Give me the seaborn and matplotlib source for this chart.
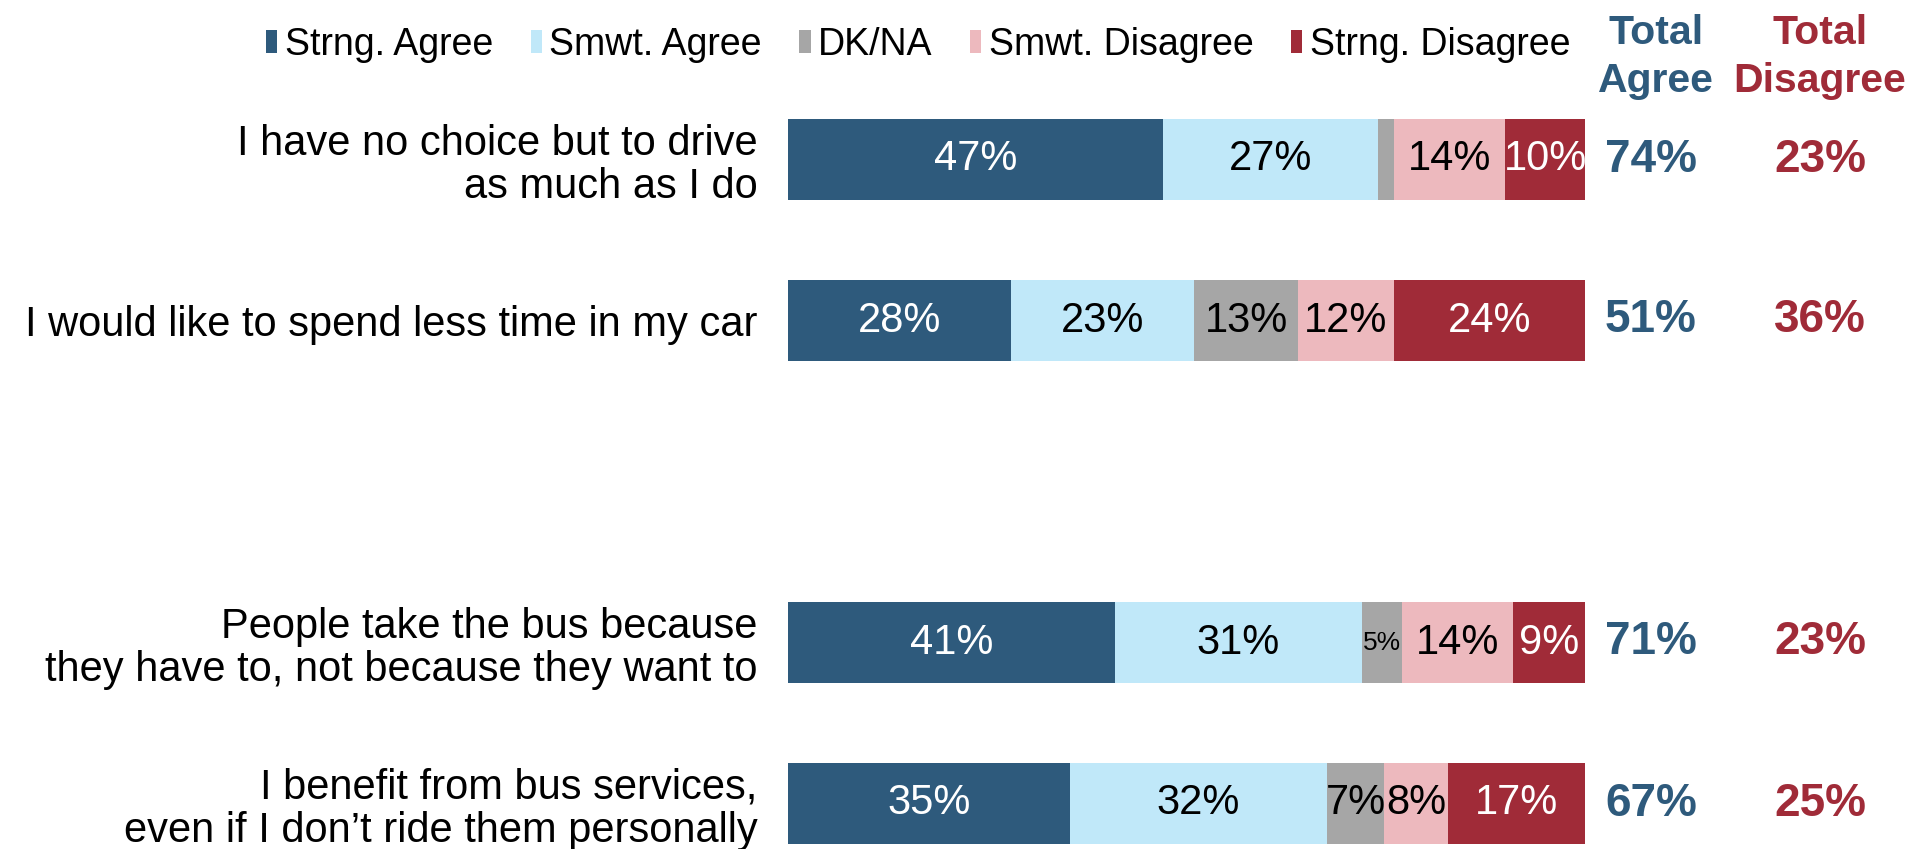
import numpy as np
import pandas as pd
import matplotlib
matplotlib.use("Agg")
import matplotlib.pyplot as plt
from matplotlib.patches import Patch
from matplotlib.transforms import blended_transform_factory
import seaborn as sns

# ---------------- data ----------------
statements = [
    "I have no choice but to drive\nas much as I do",
    "I would like to spend less time in my car",
    "People take the bus because\nthey have to, not because they want to",
    "I benefit from bus services,\neven if I don\u2019t ride them personally",
]
row_pos = [0, 1, 3, 4]
categories = ["Strng. Agree", "Smwt. Agree", "DK/NA", "Smwt. Disagree", "Strng. Disagree"]
strng_agree = [47, 28, 41, 35]
smwt_agree = [27, 23, 31, 32]
dk_na = [2, 13, 5, 7]
smwt_disagree = [14, 12, 14, 8]
strng_disagree = [10, 24, 9, 17]
total_agree = [74, 51, 71, 67]
total_disagree = [23, 36, 23, 25]

colors = ["#2E5A7C", "#C0E8F9", "#A6A6A6", "#EDB9BE", "#A02B38"]
label_colors = ["white", "black", "black", "black", "white"]

# ---------------- styling ----------------
sns.set_theme(style="white")
plt.rcParams["font.family"] = ["Liberation Sans", "DejaVu Sans"]
plt.rcParams["text.color"] = "black"
plt.rcParams["ytick.color"] = "black"
plt.rcParams["ytick.labelcolor"] = "black"

fig = plt.figure(figsize=(19.15, 8.49), dpi=100)
ax = fig.add_axes([788 / 1915, 0.0, (1585 - 788) / 1915, (849 - 79) / 849])

vals = np.array([strng_agree, smwt_agree, dk_na, smwt_disagree, strng_disagree], dtype=float)
shares = vals / vals.sum(axis=0) * 100.0  # 100% stacked
cum = np.cumsum(shares, axis=0)

# draw layers from the outermost cumulative sum inward
for i in range(len(categories) - 1, -1, -1):
    df = pd.DataFrame({"value": cum[i], "pos": row_pos})
    sns.barplot(data=df, x="value", y="pos", orient="h", native_scale=True,
                color=colors[i], saturation=1, width=0.5, ax=ax,
                errorbar=None, linewidth=0)

# segment labels
for i in range(len(categories)):
    for j, p in enumerate(row_pos):
        v = vals[i, j]
        if v < 5:
            continue
        left = cum[i, j] - shares[i, j]
        size = 19 if v <= 5 else 30
        ax.text(left + shares[i, j] / 2, p, f"{int(v)}%", ha="center", va="center",
                fontsize=size, color=label_colors[i])

# totals
tr = blended_transform_factory(fig.transFigure, ax.transData)
for j, p in enumerate(row_pos):
    ax.text(1651 / 1915, p, f"{total_agree[j]}%", transform=tr,
            ha="center", va="center", fontsize=33, fontweight="bold", color="#2E5A7C")
    ax.text(1820 / 1915, p, f"{total_disagree[j]}%", transform=tr,
            ha="center", va="center", fontsize=33, fontweight="bold", color="#A02B38")

fig.text(1656 / 1915, 1 - 57 / 849, "Total\nAgree", ha="center", va="center",
         fontsize=29.5, fontweight="bold", color="#2E5A7C", linespacing=1.35)
fig.text(1820 / 1915, 1 - 57 / 849, "Total\nDisagree", ha="center", va="center",
         fontsize=29.5, fontweight="bold", color="#A02B38", linespacing=1.35)

# axes formatting
ax.set_xlim(0, 100)
ax.set_ylim(4 + (849 - 803.5) / 161.0, -0.5)
ax.set_yticks(row_pos)
ax.set_yticklabels(statements, fontsize=30, linespacing=1.1, color="black")
ax.tick_params(axis="y", length=0, pad=22)
ax.set_xticks([])
ax.set_xlabel("")
ax.set_ylabel("")
for s in ax.spines.values():
    s.set_visible(False)

# legend
handles = [Patch(facecolor=c, edgecolor="none") for c in colors]
leg = fig.legend(handles, categories, loc="center left", bbox_to_anchor=(266 / 1915, 1 - 45 / 849),
                 ncol=5, frameon=False, fontsize=27, handlelength=0.3, handleheight=0.55,
                 handletextpad=0.2, columnspacing=1.0, borderpad=0, borderaxespad=0)
for t in leg.get_texts():
    t.set_color("black")

fig.savefig("out.png", dpi=100)
